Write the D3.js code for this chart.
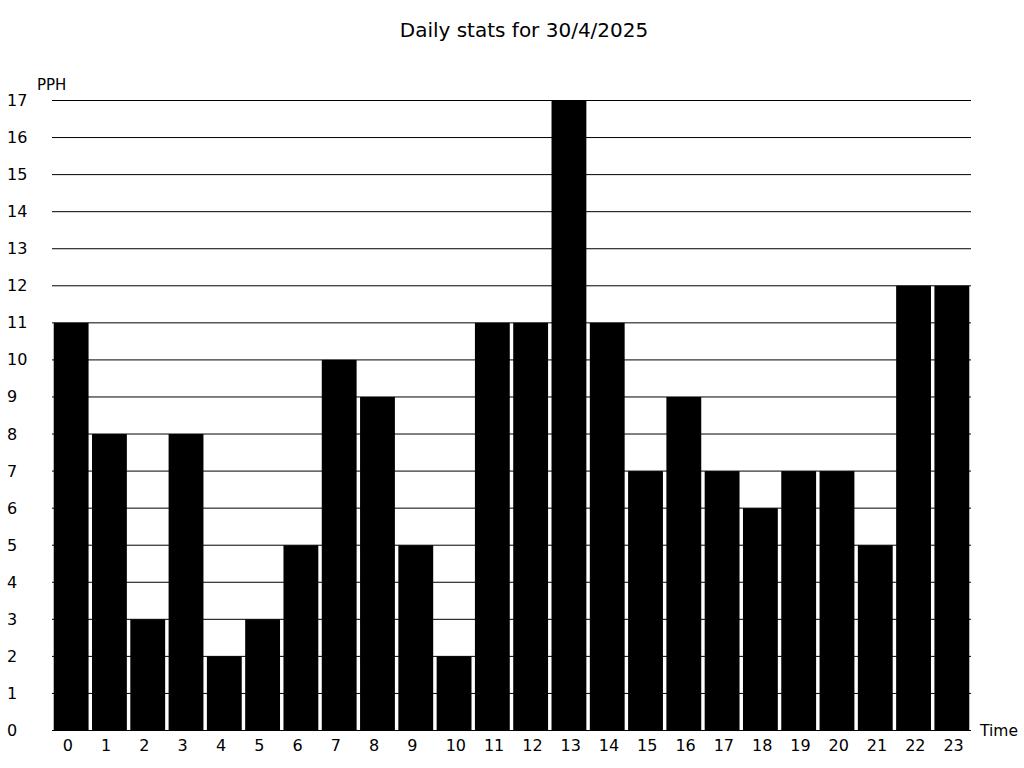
<!DOCTYPE html>
<html>
<head>
<meta charset="utf-8">
<script src="https://cdn.jsdelivr.net/npm/d3@7"></script>
<style>
  html, body { margin: 0; padding: 0; background: #fff; }
  svg { display: block; font-family: "DejaVu Sans", sans-serif; }
</style>
</head>
<body>
<svg id="chart" width="1024" height="768"></svg>
<script>
const title = "Daily stats for 30/4/2025";
const hours = ["0","1","2","3","4","5","6","7","8","9","10","11","12","13","14","15","16","17","18","19","20","21","22","23"];
const pph = [11, 8, 3, 8, 2, 3, 5, 10, 9, 5, 2, 11, 11, 17, 11, 7, 9, 7, 6, 7, 7, 5, 12, 12];
const yTicks = d3.range(0, 18);
const yLabel = "PPH";
const xLabel = "Time";

(function () {
const svg = d3.select("#chart");
const plotLeft = 52, plotRight = 971, plotTop = 100.5, plotBottom = 730.5;

const x = d3.scaleBand().domain(hours).range([plotLeft, plotRight]).paddingInner(0.09).paddingOuter(0.045);
const y = d3.scaleLinear().domain([0, 17]).range([plotBottom, plotTop]);

// title
svg.append("text").attr("x", 524).attr("y", 37).attr("text-anchor", "middle")
  .attr("font-size", 20).attr("fill", "#000").text(title);

// gridlines
svg.append("g").selectAll("line").data(yTicks).join("line")
  .attr("x1", plotLeft).attr("x2", plotRight)
  .attr("y1", d => y(d)).attr("y2", d => y(d))
  .attr("stroke", "#000").attr("stroke-width", 1);

// y tick labels
svg.append("g").selectAll("text").data(yTicks).join("text")
  .attr("x", 7).attr("y", d => y(d) + 5.5)
  .attr("font-size", 16).attr("fill", "#000").text(d => d);

// bars
svg.append("g").selectAll("rect").data(pph).join("rect")
  .attr("x", (d, i) => x(hours[i]))
  .attr("width", x.bandwidth())
  .attr("y", d => y(d))
  .attr("height", d => y(0) - y(d))
  .attr("fill", "#000");

// x tick labels
svg.append("g").selectAll("text").data(hours).join("text")
  .attr("x", d => x(d) + 9).attr("y", 751)
  .attr("font-size", 16).attr("fill", "#000").text(d => d);

// axis labels
svg.append("text").attr("x", 37).attr("y", 90).attr("font-size", 15).attr("fill", "#000").text(yLabel);
svg.append("text").attr("x", 980).attr("y", 736).attr("font-size", 15.5).attr("fill", "#000").text(xLabel);
})();
</script>
</body>
</html>
